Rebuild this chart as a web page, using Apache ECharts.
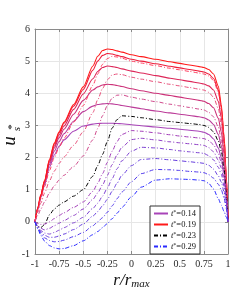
<!DOCTYPE html>
<html><head><meta charset="utf-8">
<script src="https://cdn.jsdelivr.net/npm/echarts@6/dist/echarts.min.js"></script>
<style>html,body{margin:0;padding:0;background:#fff}#c{width:252px;height:294px}</style>
</head><body><div id="c"></div>
<script>
// radial positions r/r_max
const rPos = [-1, -0.97, -0.94, -0.9, -0.85, -0.8, -0.75, -0.7, -0.6, -0.5, -0.4, -0.35, -0.3, -0.25, -0.2, -0.15, -0.1, 0, 0.1, 0.25, 0.4, 0.5, 0.6, 0.7, 0.75, 0.8, 0.85, 0.9, 0.93, 0.96, 0.98, 1];
const xTicks = ['-1', '-0.75', '-0.5', '-0.25', '0', '0.25', '0.5', '0.75', '1'];
const yTicks = ['-1', '0', '1', '2', '3', '4', '5', '6'];
const legendLabels = ['0.14', '0.19', '0.23', '0.29'];

// solid curves (t* = 0.14 ... 0.19)
const solid014 = [0, 0.4, 0.76, 1.16, 1.7, 2.08, 2.35, 2.55, 2.82, 2.98, 3.04, 3.06, 3.07, 3.07, 3.07, 3.06, 3.05, 3.02, 2.99, 2.95, 2.91, 2.88, 2.85, 2.82, 2.79, 2.72, 2.58, 2.3, 2.0, 1.5, 0.9, 0];
const solidB = [0, 0.41, 0.78, 1.2, 1.78, 2.2, 2.5, 2.74, 3.13, 3.43, 3.6, 3.65, 3.67, 3.68, 3.67, 3.65, 3.62, 3.57, 3.52, 3.45, 3.39, 3.35, 3.31, 3.27, 3.24, 3.17, 3.03, 2.72, 2.38, 1.8, 1.1, 0];
const solidC = [0, 0.42, 0.8, 1.23, 1.84, 2.3, 2.62, 2.88, 3.35, 3.78, 4.1, 4.2, 4.26, 4.28, 4.27, 4.24, 4.21, 4.14, 4.08, 4.0, 3.93, 3.88, 3.83, 3.78, 3.75, 3.68, 3.55, 3.22, 2.8, 2.1, 1.25, 0];
const solidD = [0, 0.43, 0.82, 1.26, 1.88, 2.36, 2.7, 2.98, 3.5, 3.98, 4.45, 4.68, 4.8, 4.85, 4.83, 4.8, 4.76, 4.69, 4.63, 4.55, 4.47, 4.42, 4.37, 4.32, 4.29, 4.23, 4.1, 3.75, 3.25, 2.4, 1.4, 0];
const solidE = [0, 0.44, 0.83, 1.28, 1.92, 2.42, 2.77, 3.07, 3.6, 4.12, 4.72, 5.0, 5.18, 5.24, 5.22, 5.18, 5.14, 5.06, 5.0, 4.92, 4.84, 4.79, 4.74, 4.69, 4.66, 4.6, 4.46, 4.1, 3.55, 2.6, 1.5, 0];
const solid019 = [0, 0.45, 0.85, 1.3, 1.95, 2.45, 2.8, 3.1, 3.65, 4.2, 4.85, 5.15, 5.33, 5.38, 5.36, 5.32, 5.28, 5.2, 5.14, 5.06, 4.98, 4.93, 4.88, 4.83, 4.8, 4.74, 4.6, 4.22, 3.65, 2.65, 1.55, 0];

// dash-dot curves (t* > 0.19)
const dashA = [0, 0.38, 0.72, 1.1, 1.6, 2.0, 2.32, 2.6, 3.1, 3.62, 4.25, 4.6, 4.9, 5.08, 5.15, 5.13, 5.09, 5.0, 4.94, 4.86, 4.78, 4.73, 4.68, 4.63, 4.6, 4.54, 4.4, 4.03, 3.5, 2.55, 1.5, 0];
const dashB = [0, 0.3, 0.58, 0.9, 1.28, 1.58, 1.82, 2.02, 2.38, 2.8, 3.4, 3.8, 4.15, 4.42, 4.57, 4.6, 4.58, 4.5, 4.44, 4.36, 4.28, 4.23, 4.18, 4.13, 4.1, 4.03, 3.88, 3.52, 3.05, 2.25, 1.32, 0];
const dashC = [0, 0.2, 0.4, 0.62, 0.9, 1.12, 1.3, 1.45, 1.72, 2.05, 2.55, 2.9, 3.3, 3.62, 3.85, 3.94, 3.95, 3.88, 3.82, 3.74, 3.66, 3.61, 3.56, 3.51, 3.48, 3.41, 3.27, 2.95, 2.55, 1.9, 1.12, 0];
const dash023 = [0, -0.15, -0.18, -0.08, 0.22, 0.4, 0.52, 0.62, 0.8, 1.0, 1.42, 1.75, 2.1, 2.5, 2.92, 3.18, 3.3, 3.28, 3.24, 3.18, 3.12, 3.09, 3.06, 3.03, 3.0, 2.94, 2.8, 2.52, 2.2, 1.65, 0.98, 0];
const dashE = [0, -0.05, -0.08, -0.07, 0.0, 0.1, 0.2, 0.28, 0.45, 0.62, 0.95, 1.2, 1.5, 1.85, 2.2, 2.5, 2.72, 2.84, 2.82, 2.77, 2.71, 2.67, 2.64, 2.61, 2.59, 2.53, 2.4, 2.12, 1.85, 1.38, 0.82, 0];
const dashF = [0, -0.12, -0.2, -0.25, -0.2, -0.12, -0.04, 0.04, 0.2, 0.4, 0.7, 0.9, 1.15, 1.45, 1.78, 2.08, 2.32, 2.56, 2.6, 2.55, 2.49, 2.46, 2.43, 2.4, 2.38, 2.31, 2.18, 1.92, 1.68, 1.25, 0.75, 0];
const dashG = [0, -0.15, -0.27, -0.35, -0.38, -0.33, -0.26, -0.18, -0.03, 0.14, 0.42, 0.58, 0.8, 1.05, 1.35, 1.65, 1.9, 2.2, 2.32, 2.3, 2.25, 2.21, 2.18, 2.15, 2.13, 2.06, 1.93, 1.7, 1.48, 1.1, 0.66, 0];
const dashH = [0, -0.17, -0.31, -0.42, -0.48, -0.48, -0.44, -0.38, -0.24, -0.07, 0.18, 0.32, 0.5, 0.7, 0.95, 1.2, 1.45, 1.75, 1.94, 1.97, 1.93, 1.9, 1.87, 1.84, 1.82, 1.76, 1.64, 1.43, 1.24, 0.93, 0.55, 0];
const dashI = [0, -0.19, -0.35, -0.5, -0.58, -0.62, -0.61, -0.57, -0.46, -0.33, -0.12, 0.0, 0.13, 0.3, 0.5, 0.72, 0.93, 1.25, 1.5, 1.63, 1.62, 1.6, 1.57, 1.55, 1.53, 1.47, 1.36, 1.17, 1.0, 0.74, 0.44, 0];
const dash029 = [0, -0.22, -0.42, -0.6, -0.74, -0.81, -0.84, -0.83, -0.74, -0.59, -0.4, -0.3, -0.18, -0.05, 0.1, 0.27, 0.45, 0.78, 1.08, 1.3, 1.34, 1.33, 1.32, 1.3, 1.28, 1.2, 1.02, 0.72, 0.52, 0.32, 0.16, 0];

const DD = [4, 2, 1, 2];
function mk(name, vals, color, dashed, width) {
  return {
    type: 'line', name: name, symbol: 'none', smooth: 0.25, smoothMonotone: 'x',
    data: rPos.map((x, i) => [x, vals[i]]),
    lineStyle: { color: color, width: width, type: dashed ? DD : 'solid' },
    itemStyle: { color: color, opacity: 0 }, emphasis: { disabled: true }
  };
}
const series = [
  mk('0.14', solid014, '#a844b8', false, 1.1),
  mk('sB', solidB, '#bb3a98', false, 1.1),
  mk('sC', solidC, '#cc3078', false, 1.1),
  mk('sD', solidD, '#dd2658', false, 1.1),
  mk('sE', solidE, '#ee1c3a', false, 1.1),
  mk('0.19', solid019, '#ff1a1a', false, 1.1),
  mk('dA', dashA, '#ff4060', true, 1),
  mk('dB', dashB, '#e8507a', true, 1),
  mk('dC', dashC, '#d04a8c', true, 1),
  mk('0.23', dash023, '#000000', true, 1),
  mk('dE', dashE, '#a23cb8', true, 1),
  mk('dF', dashF, '#8f3fc6', true, 1),
  mk('dG', dashG, '#7c40d2', true, 1),
  mk('dH', dashH, '#6840de', true, 1),
  mk('dI', dashI, '#5038ec', true, 1),
  mk('0.29', dash029, '#2a2aff', true, 1)
];

const SERIF = 'Liberation Serif';
const lbl = { fontFamily: SERIF, fontSize: 10, color: '#262626' };
const chart = echarts.init(document.getElementById('c'), null, { renderer: 'canvas' });
const xFmt = v => xTicks[Math.round((v + 1) / 0.25)] || '';
const yFmt = v => yTicks[Math.round(v + 1)] || '';
chart.setOption({
  animation: false,
  backgroundColor: '#fff',
  grid: { left: 35, right: 24, top: 29, bottom: 40, show: false },
  xAxis: [
    { type: 'value', min: -1, max: 1, interval: 0.25, position: 'bottom',
      axisLine: { show: true, onZero: false, lineStyle: { color: '#8a8a8a', width: 1 } },
      axisTick: { show: true, inside: true, length: 3, lineStyle: { color: '#8a8a8a' } },
      axisLabel: Object.assign({ margin: 5, formatter: xFmt }, lbl),
      splitLine: { show: true, lineStyle: { color: '#e6e6e6', width: 1 } } },
    { type: 'value', min: -1, max: 1, interval: 0.25, position: 'top',
      axisLine: { show: true, onZero: false, lineStyle: { color: '#8a8a8a', width: 1 } },
      axisTick: { show: true, inside: true, length: 3, lineStyle: { color: '#8a8a8a' } },
      axisLabel: { show: false }, splitLine: { show: false } }
  ],
  yAxis: [
    { type: 'value', min: -1, max: 6, interval: 1, position: 'left',
      axisLine: { show: true, onZero: false, lineStyle: { color: '#8a8a8a', width: 1 } },
      axisTick: { show: true, inside: true, length: 3, lineStyle: { color: '#8a8a8a' } },
      axisLabel: Object.assign({ margin: 5, formatter: yFmt }, lbl),
      splitLine: { show: true, lineStyle: { color: '#e6e6e6', width: 1 } } },
    { type: 'value', min: -1, max: 6, interval: 1, position: 'right',
      axisLine: { show: true, onZero: false, lineStyle: { color: '#8a8a8a', width: 1 } },
      axisTick: { show: true, inside: true, length: 3, lineStyle: { color: '#8a8a8a' } },
      axisLabel: { show: false }, splitLine: { show: false } }
  ],
  legend: {
    data: legendLabels, orient: 'vertical', left: 150, top: 206,
    itemWidth: 14, itemHeight: 8, itemGap: 2, padding: [3, 4, 3, 3],
    backgroundColor: '#fff', borderColor: '#333', borderWidth: 1, borderRadius: 0,
    selectedMode: false,
    itemStyle: { opacity: 0 },
    formatter: n => '{i|t}{s|*}{n|=' + n + '}',
    textStyle: { fontFamily: SERIF, fontSize: 8, color: '#111', padding: [0, 0, 0, -2],
      rich: { i: { fontFamily: SERIF, fontStyle: 'italic', fontSize: 8.5 },
              s: { fontFamily: SERIF, fontSize: 6, verticalAlign: 'top' },
              n: { fontFamily: SERIF, fontSize: 8.5 } } }
  },
  graphic: [
    { type: 'text', x: 131.5, y: 281, z: 100,
      style: { text: '{a|r/r}{b|max}', textAlign: 'center', textVerticalAlign: 'middle',
        rich: { a: { fontFamily: SERIF, fontStyle: 'italic', fontSize: 17, fill: '#111' },
                b: { fontFamily: SERIF, fontStyle: 'italic', fontSize: 11, fill: '#111', verticalAlign: 'bottom', padding: [6, 0, 0, 0] } } } },
    { type: 'text', x: 10, y: 141, rotation: Math.PI / 2, z: 100,
      style: { text: 'u', fontFamily: SERIF, fontStyle: 'italic', fontSize: 19, fill: '#111', textAlign: 'center', textVerticalAlign: 'middle' } },
    { type: 'text', x: 12.5, y: 127, rotation: Math.PI / 2, z: 100,
      style: { text: '*', fontFamily: SERIF, fontSize: 11, fill: '#111', textAlign: 'center', textVerticalAlign: 'middle' } },
    { type: 'text', x: 17.5, y: 129, rotation: Math.PI / 2, z: 100,
      style: { text: 's', fontFamily: SERIF, fontStyle: 'italic', fontSize: 11, fill: '#111', textAlign: 'center', textVerticalAlign: 'middle' } }
  ],
  series: series
});
</script></body></html>
